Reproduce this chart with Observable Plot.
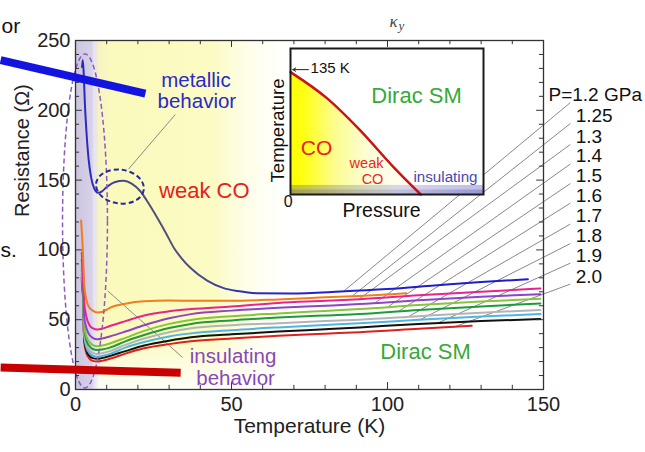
<!DOCTYPE html>
<html><head><meta charset="utf-8">
<script src="https://cdn.jsdelivr.net/npm/d3@7"></script>
<script src="https://cdn.jsdelivr.net/npm/@observablehq/plot@0.6"></script>
<style>
body{margin:0;background:#fff;}
#wrap{position:relative;width:645px;height:452px;overflow:hidden;background:#fff;}
#wrap svg{position:absolute;left:0;top:0;}
#wrap #inset{position:absolute;left:262px;top:44px;}
</style>
</head><body><div id="wrap"></div>
<script>
const FONT = "'Liberation Sans', Arial, sans-serif";

// ---- data ----
const seriesP = ["1.2","1.25","1.3","1.4","1.5","1.6","1.7","1.8","1.9","2.0"];
const seriesColors = ["url(#blueGrad)","#f07d1e","#e8238c","#8e44c4","#84c53c","#1e9a3c","#b4b4b4","#4db6e6","#111111","#e0201c"];

const T_12 = [2.1, 2.35, 2.7, 3.0, 3.5, 4.2, 5, 6, 7.2, 8.5, 10, 12.5, 15.5, 18, 20.8, 23.5, 26.2, 29, 31.5, 34, 36.9, 42.2, 47.5, 52, 58, 69, 85, 100, 115, 130, 145];
const R_12 = [231, 236, 223, 205, 185, 165, 152, 144, 141, 142, 145, 148.5, 149.5, 147.5, 142, 133, 123, 112, 101.6, 94, 87, 78, 72.6, 70.5, 69, 68.8, 70.2, 72, 74.5, 77, 79];

const T_125 = [1.8, 2.3, 2.8, 3.5, 4.5, 5.5, 7, 8.5, 11, 16, 22, 30, 37, 50, 65, 80, 91, 106];
const R_125 = [121, 102, 75, 64, 58.5, 56.5, 55.2, 55.5, 58.5, 61.5, 63.2, 63.7, 63.6, 63.5, 64.5, 66, 67, 69];

const T_grid = [2, 2.4, 2.8, 3.5, 4.5, 5.5, 7, 8.5, 11, 16, 22, 30, 37, 50, 65, 80, 91, 110, 130, 149];
const R_13 = [98, 85, 62, 52, 46, 44, 43, 43.5, 45.5, 49, 53, 56, 57.6, 59.5, 62, 63.5, 64.7, 67.5, 70, 72.4];
const R_14 = [93, 80, 52, 44, 39, 37, 36, 36.5, 38, 41.5, 46, 51, 54, 56.5, 58.5, 60, 61.2, 64, 66.5, 68.3];
const R_15 = [88, 76, 46, 38, 34, 32, 31, 31.5, 33, 37, 42, 47, 49.8, 52.5, 54.5, 56.3, 57.6, 60.5, 63, 65];
const R_16 = [86, 74, 43, 35, 31, 29, 28.3, 28.6, 30, 34.5, 39, 44, 47, 49.5, 51.5, 53, 54, 57, 59.5, 61.6];
const R_17 = [84, 72, 40, 32, 28, 26.2, 25.5, 26, 27.5, 32, 36.5, 41, 43.8, 46, 47.5, 49, 50, 52.5, 55, 57];
const R_18 = [82, 70, 38, 30, 26, 24.2, 23.5, 24, 25.5, 30, 34, 38, 40.2, 42.5, 44.5, 46.2, 47.4, 50, 52.3, 54];
const R_19 = [80, 68, 36, 28, 24, 22.5, 22, 22.5, 24, 27.5, 31.5, 35, 37.4, 39.5, 41.5, 43.2, 44.5, 47, 49, 50.5];
const T_20 = [2, 2.4, 2.8, 3.5, 4.5, 5.5, 7, 8.5, 11, 16, 22, 30, 37, 50, 65, 80, 91, 110, 127];
const R_20 = [78, 66, 34, 26, 22, 20.5, 20, 20.5, 22, 25.7, 29.5, 32.5, 34.5, 36.5, 38.5, 40, 41, 43.5, 45.7];

const seriesT = [T_12, T_125, T_grid, T_grid, T_grid, T_grid, T_grid, T_grid, T_grid, T_20];
const seriesR = [R_12, R_125, R_13, R_14, R_15, R_16, R_17, R_18, R_19, R_20];

// pressure labels & leader lines
const pLabels = ["P=1.2 GPa","1.25","1.3","1.4","1.5","1.6","1.7","1.8","1.9","2.0"];
const labelT = [151.6, 160.3, 160.3, 160.3, 160.3, 160.3, 160.3, 160.3, 160.3, 160.3];
const labelR = [211, 196, 181, 167, 153, 139, 124, 110, 96, 81];
const leaderT = [86, 89, 91, 96, 100, 103.5, 107, 110, 116, 121];
const leaderR = [70.5, 67.5, 65, 62, 59, 56, 52.5, 49.5, 47.5, 44.5];

// ticks
const xTickLabels = [0, 50, 100, 150];
const yTickLabels = [0, 50, 100, 150, 200, 250];
const xTicksAll = [0,10,20,30,40,50,60,70,80,90,100,110,120,130,140,150];
const yTicksAll = [0,10,20,30,40,50,60,70,80,90,100,110,120,130,140,150,160,170,180,190,200,210,220,230,240,250];

// annotations
const annoText = ["metallic","behavior","weak CO","insulating","behavior","Dirac SM"];
const annoT = [38.6, 38.9, 41.3, 50.5, 51.3, 112.2];
const annoR = [221.5, 206.5, 142, 23.8, 8.2, 26.6];
const annoSize = [20.5, 20.5, 22, 20.5, 20.5, 22];
const annoColor = ["#2a2ac8","#2a2ac8","#e8201c","#8a48b8","#8a48b8","#38a838"];

const thickLines = [
  {x1: -24, y1: 236, x2: 22.4, y2: 212, c: "#1414e0"},
  {x1: -24, y1: 15.7, x2: 33.7, y2: 12, c: "#c80000"}
];
const thinLeaders = [
  {x1: 17, y1: 157.9, x2: 32, y2: 197},
  {x1: 10.3, y1: 70.7, x2: 34.3, y2: 23}
];
const ellipses = [
  {T: 3.2, R: 120.4, rT: 7.2, rR: 119.6, rot: 0, stroke: "#8a5cc0", w: 1.5, dash: "5,3"},
  {T: 14.4, R: 145, rT: 7.7, rR: 12.1, rot: 8, stroke: "#2a2aa0", w: 2, dash: "5,3"}
];
const lavBand = [0, 7.5];
const yelBand = [6.5, 70];

// inset (phase diagram)
const insetP = [0, 0.19, 0.36, 0.535, 0.675];
const insetT = [135, 106, 71, 30, 0];

// ---- helpers ----
const NS = "http://www.w3.org/2000/svg";
function el(tag, attrs = {}, children = []) {
  const e = document.createElementNS(NS, tag);
  for (const [k, v] of Object.entries(attrs)) e.setAttribute(k, v);
  children.forEach(c => e.appendChild(c));
  return e;
}
function grad(id, stops, attrs) {
  return el("linearGradient", {id, ...attrs}, stops.map(([o, c, op = 1]) => el("stop", {offset: o, "stop-color": c, "stop-opacity": op})));
}

const background = (index, {x, y}) => {
  const g = el("g");
  const defs = el("defs");
  defs.appendChild(grad("lav", [[0,"#cbc4df"],[0.7,"#d6d1e8"],[1,"#e4e0ee",0.2]], {x1:0,x2:1,y1:0,y2:0}));
  defs.appendChild(grad("yel", [[0,"#f4f2c4"],[0.08,"#fafabc"],[0.6,"#fbfbc4"],[1,"#fffff2",0]], {x1:0,x2:1,y1:0,y2:0}));
  defs.appendChild(grad("fadeB", [[0,"#ffffff",0],[1,"#ffffff",0.9]], {x1:0,x2:0,y1:0,y2:1}));
  const blueStops = [[0,"#2424c8"],[8,"#3434b0"],[16,"#4a4a88"],[28,"#525272"],[42,"#4a4a8c"],[55,"#2e2eb8"],[80,"#2020cc"],[150,"#1c1cc8"]];
  defs.appendChild(grad("blueGrad", blueStops.map(([t,c]) => [t/150, c]), {gradientUnits:"userSpaceOnUse", x1: x(0), x2: x(150), y1: 0, y2: 0}));
  g.appendChild(defs);
  g.appendChild(el("rect", {x: x(yelBand[0]), y: y(250), width: x(yelBand[1]) - x(yelBand[0]), height: y(0) - y(250), fill: "url(#yel)"}));
  g.appendChild(el("rect", {x: x(yelBand[0]), y: y(38), width: x(yelBand[1]) - x(yelBand[0]), height: y(0) - y(38), fill: "url(#fadeB)"}));
  g.appendChild(el("rect", {x: x(lavBand[0]), y: y(250), width: x(lavBand[1]) - x(lavBand[0]), height: y(0) - y(250), fill: "url(#lav)"}));
  return g;
};

const ellipseMark = (index, {x, y}) => {
  const g = el("g");
  for (const e of ellipses) {
    const cx = x(e.T), cy = y(e.R);
    const rx = x(e.T + e.rT) - cx, ry = cy - y(e.R + e.rR);
    g.appendChild(el("ellipse", {cx, cy, rx, ry, transform: `rotate(${e.rot} ${cx} ${cy})`, fill: "none", stroke: e.stroke, "stroke-width": e.w, "stroke-dasharray": e.dash}));
  }
  return g;
};

// ---- build rows ----
const seriesRows = seriesP.map((p, i) => seriesT[i].map((t, j) => ({P: p, T: t, R: seriesR[i][j]})));
const labelRows = pLabels.map((t, i) => ({t, T: labelT[i], R: labelR[i]}));
const leaderRows = pLabels.map((t, i) => ({x1: 158.6, y1: labelR[i] - 5.5, x2: leaderT[i], y2: leaderR[i]}));
const annoRows = annoText.map((t, i) => ({t, T: annoT[i], R: annoR[i], c: annoColor[i], s: annoSize[i]}));

const lineMarks = [];
for (let i = seriesP.length - 1; i >= 0; i--) {
  lineMarks.push(Plot.line(seriesRows[i], {x: "T", y: "R", stroke: seriesColors[i], strokeWidth: 2, curve: "monotone-x"}));
}

const AX = "#333";
const main = Plot.plot({
  width: 645, height: 452,
  marginLeft: 75, marginRight: 102, marginTop: 40, marginBottom: 63,
  x: {domain: [0, 150]}, y: {domain: [0, 250]},
  style: {fontFamily: FONT, background: "transparent", overflow: "visible"},
  marks: [
    background,
    Plot.link(leaderRows, {x1: "x1", y1: "y1", x2: "x2", y2: "y2", stroke: "#7a7a7a", strokeWidth: 0.9}),
    Plot.link(thinLeaders, {x1: "x1", y1: "y1", x2: "x2", y2: "y2", stroke: "#8a8a8a", strokeWidth: 1}),
    ...lineMarks,
    ellipseMark,
    Plot.frame({stroke: AX, strokeWidth: 1.3}),
    Plot.ruleX(xTicksAll, {x: d => d, y1: 0, y2: d => d % 50 === 0 ? 5 : 3, stroke: AX}),
    Plot.ruleX(xTicksAll, {x: d => d, y1: 250, y2: d => d % 50 === 0 ? 245 : 247, stroke: AX}),
    Plot.ruleY(yTicksAll, {y: d => d, x1: 0, x2: d => d % 50 === 0 ? 2.2 : 1.3, stroke: AX}),
    Plot.ruleY(yTicksAll, {y: d => d, x1: 150, x2: d => d % 50 === 0 ? 147.8 : 148.7, stroke: AX}),
    Plot.axisX({ticks: xTickLabels, tickSize: 0, tickPadding: 7, fontSize: 20, fill: "#222", label: null}),
    Plot.axisY({ticks: yTickLabels, tickSize: 0, tickPadding: 5, fontSize: 20, fill: "#222", label: null}),
    Plot.text(["Temperature (K)"], {frameAnchor: "bottom", dy: 43, fontSize: 21, fill: "#222"}),
    Plot.text(["Resistance (Ω)"], {frameAnchor: "left", rotate: -90, dx: -53, dy: 2, fontSize: 20, fill: "#222"}),
    Plot.text(annoRows, {x: "T", y: "R", text: "t", fill: d => d.c, fontSize: d => d.s}),
    Plot.text(labelRows, {x: "T", y: "R", text: "t", textAnchor: "start", fontSize: 19, fill: "#111"}),
    Plot.link(thickLines, {x1: "x1", y1: "y1", x2: "x2", y2: "y2", stroke: d => d.c, strokeWidth: 8}),
    Plot.text(["or"], {frameAnchor: "top-left", dx: -74, dy: -22, textAnchor: "start", fontSize: 21, fill: "#111"}),
    Plot.text(["s."], {frameAnchor: "top-left", dx: -75, dy: 202, textAnchor: "start", fontSize: 21, fill: "#111"}),
    Plot.text(["κ"], {frameAnchor: "top-left", dx: 314, dy: -26, fontSize: 17, fontStyle: "italic", fontFamily: "'Liberation Serif', serif", fill: "#444"}),
    Plot.text(["y"], {frameAnchor: "top-left", dx: 323, dy: -20, fontSize: 13, fontStyle: "italic", fontFamily: "'Liberation Serif', serif", fill: "#444"})
  ]
});
document.getElementById("wrap").appendChild(main);

// ---- inset ----
const insetRows = insetP.map((p, i) => ({P: p, T: insetT[i]}));
const insetDefs = () => {
  const d = el("defs");
  d.appendChild(grad("insetYel", [[0,"#ffff00"],[0.1,"#ffff14"],[0.35,"#fcfc92"],[0.6,"#fdfdd8"],[1,"#ffffff"]], {x1:0,x2:1,y1:0,y2:0}));
  d.appendChild(grad("insBand", [[0,"#88885e"],[0.3,"#a6a68e"],[0.55,"#b2b2d8"],[1,"#7c7ccc"]], {x1:0,x2:1,y1:0,y2:0}));
  return d;
};
const inset = Plot.plot({
  width: 230, height: 180,
  marginLeft: 28, marginRight: 9, marginTop: 4, marginBottom: 30,
  x: {domain: [0, 1], axis: null}, y: {domain: [0, 161], axis: null},
  style: {fontFamily: FONT, background: "transparent", overflow: "visible"},
  marks: [
    Plot.frame({fill: "white"}),
    insetDefs,
    Plot.areaY(insetRows, {x: "P", y: "T", fill: "url(#insetYel)", curve: "monotone-x"}),
    Plot.rect([{}], {x1: 0, x2: 1, y1: 0, y2: 10, fill: "url(#insBand)", fillOpacity: 0.5}),
    Plot.rect([{}], {x1: 0, x2: 1, y1: 0, y2: 5, fill: "url(#insBand)", fillOpacity: 0.6}),
    Plot.line(insetRows, {x: "P", y: "T", stroke: "#c81414", strokeWidth: 2.5, curve: "monotone-x"}),
    Plot.frame({stroke: "#1a1a1a", strokeWidth: 2}),
    Plot.text(["Dirac SM"], {x: 0.653, y: 109, fontSize: 22, fill: "#38a838"}),
    Plot.text(["CO"], {x: 0.135, y: 50.7, fontSize: 21, fill: "#e82020"}),
    Plot.text(["weak"], {x: 0.394, y: 34.8, fontSize: 14.5, fill: "#e82828"}),
    Plot.text(["CO"], {x: 0.425, y: 17, fontSize: 14.5, fill: "#e82828"}),
    Plot.text(["insulating"], {x: 0.803, y: 19.1, fontSize: 15.2, fill: "#4848b0"}),
    Plot.text(["135 K"], {x: 0.104, y: 139.3, textAnchor: "start", fontSize: 15, fill: "#111"}),
    Plot.arrow([{}], {x1: 0.093, y1: 137.7, x2: 0.012, y2: 137.7, stroke: "#222", strokeWidth: 1, headLength: 5}),
    Plot.text(["Temperature"], {x: -0.062, y: 70.6, rotate: -90, fontSize: 18.5, fill: "#111"}),
    Plot.text(["Pressure"], {x: 0.472, y: -17.6, fontSize: 19.5, fill: "#111"}),
    Plot.text(["0"], {x: -0.012, y: -8.5, fontSize: 16, fill: "#111"})
  ]
});
inset.id = "inset";
document.getElementById("wrap").appendChild(inset);
</script>
</body></html>
